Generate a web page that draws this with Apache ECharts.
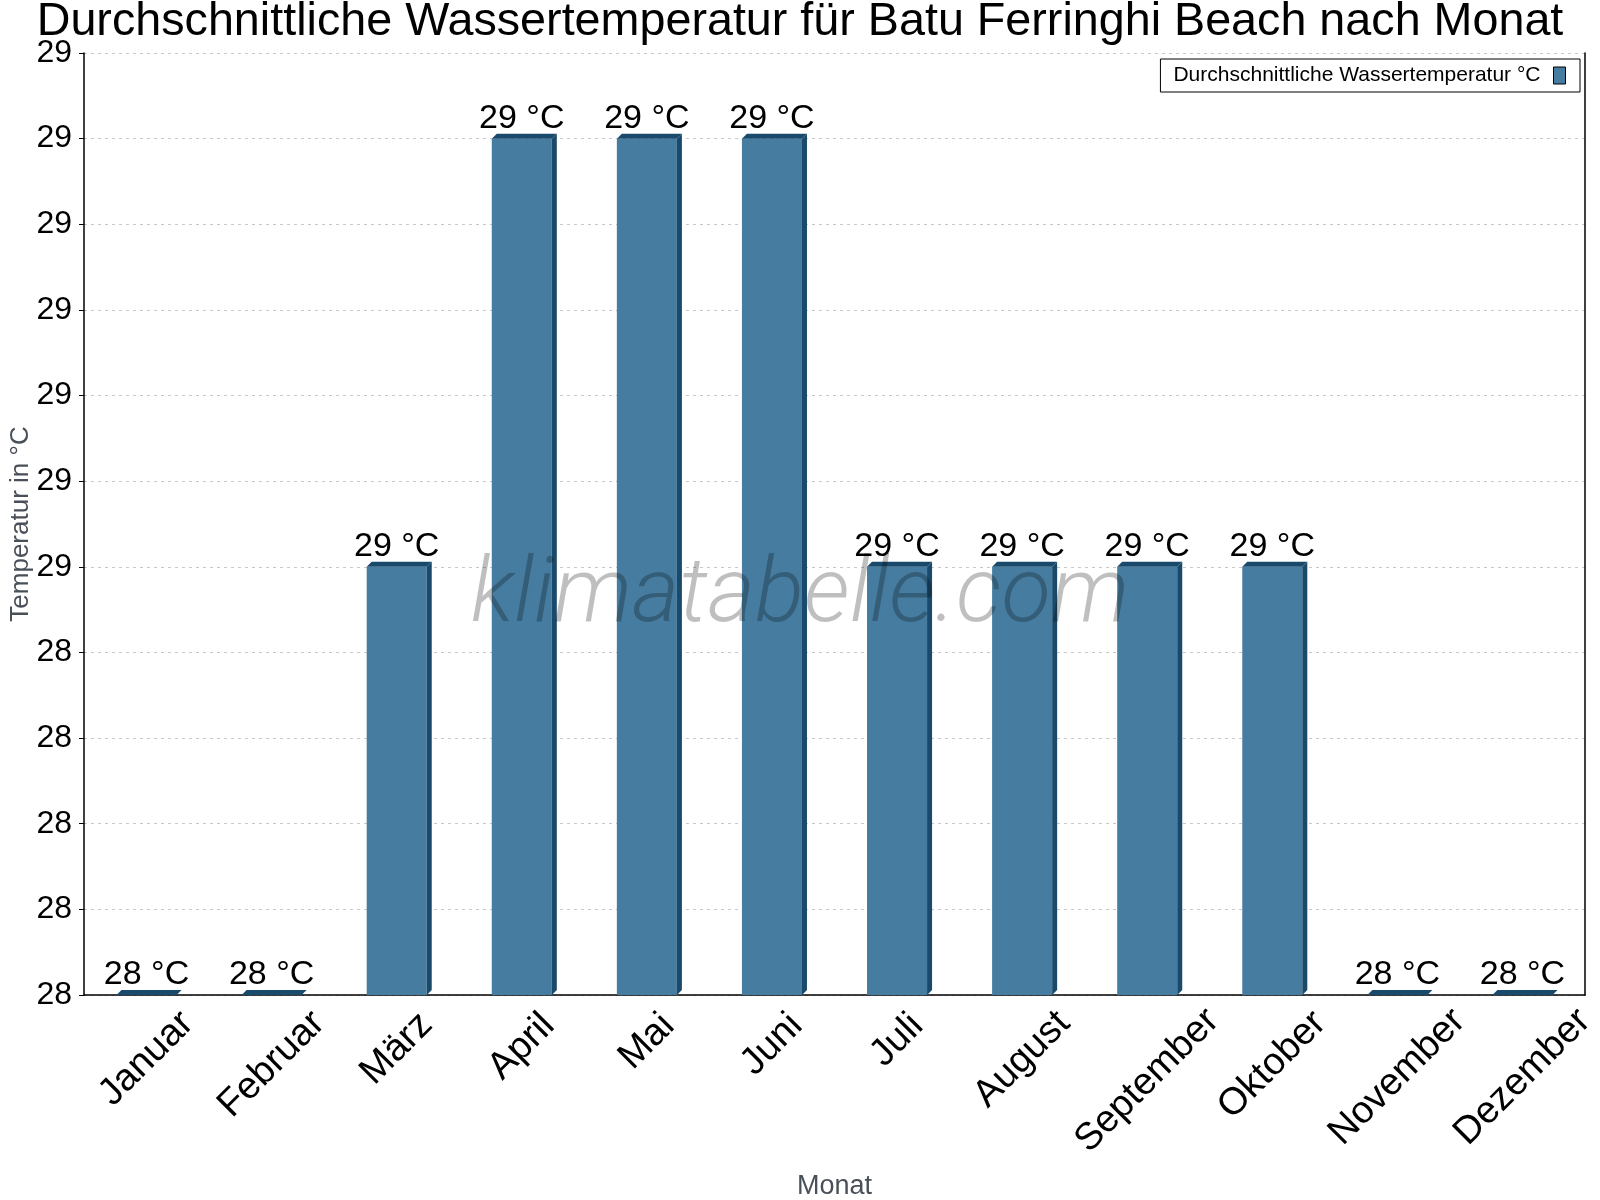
<!DOCTYPE html>
<html>
<head>
<meta charset="utf-8">
<script src="https://cdn.jsdelivr.net/npm/echarts@6/dist/echarts.min.js"></script>
<style>
  html, body { margin: 0; padding: 0; background: #fff; }
  #chart { width: 1600px; height: 1200px; }
</style>
</head>
<body>
<div id="chart"></div>
<script>
var months = ["Januar", "Februar", "März", "April", "Mai", "Juni", "Juli", "August", "September", "Oktober", "November", "Dezember"];
var waterTemp = [28.0, 28.0, 28.5, 29.0, 29.0, 29.0, 28.5, 28.5, 28.5, 28.5, 28.0, 28.0];
var yMin = 28.0;
var yMax = 29.1;
var yStep = 0.1;

var font = "Liberation Sans, Arial, sans-serif";
var frontColor = "#467ca0";
var darkColor = "#1a4a6b";
var monthFontSize = 38;

function roundLabel(v) {
  return Math.round(v + 1e-9);
}

// rotated month labels are centred under the category; longer ones sit a bit lower
var measureCtx = document.createElement("canvas").getContext("2d");
measureCtx.font = monthFontSize + "px " + font;
var monthRich = {};
months.forEach(function (m, i) {
  var len = measureCtx.measureText(m).width;
  var drop = 18 + 0.31 * len;
  var p = Math.round(drop * 1.4142);
  monthRich["m" + i] = {
    fontFamily: font,
    fontSize: monthFontSize,
    color: "#000",
    padding: [p, p, 0, 0]
  };
});

// 3d-ish bar: front face, dark top and right side
function renderBar(params, api) {
  var top = api.coord([api.value(0), api.value(1)]);
  var base = api.coord([api.value(0), yMin]);
  var w = api.size([1, 0])[0] * 0.48;
  var d = 5;
  var x0 = top[0] - w / 2;
  var x1 = top[0] + w / 2;
  return {
    type: "group",
    children: [
      {
        type: "rect",
        shape: { x: x0, y: top[1], width: w, height: base[1] - top[1] },
        style: { fill: frontColor }
      },
      {
        type: "polygon",
        shape: { points: [[x0, top[1]], [x0 + d, top[1] - d], [x1 + d, top[1] - d], [x1, top[1]]] },
        style: { fill: darkColor }
      },
      {
        type: "polygon",
        shape: { points: [[x1, top[1]], [x1 + d, top[1] - d], [x1 + d, base[1] - d], [x1, base[1]]] },
        style: { fill: darkColor }
      },
      {
        type: "text",
        style: {
          text: roundLabel(api.value(1)) + " °C",
          x: top[0],
          y: top[1] - d + 2,
          align: "center",
          verticalAlign: "bottom",
          font: "34px " + font,
          fill: "#000"
        }
      }
    ]
  };
}

var chart = echarts.init(document.getElementById("chart"));
chart.setOption({
  backgroundColor: "#fff",
  animation: false,
  title: {
    text: "Durchschnittliche Wassertemperatur für Batu Ferringhi Beach nach Monat",
    left: "center",
    top: -6,
    textStyle: { fontFamily: font, fontSize: 46.7, fontWeight: "normal", color: "#000" }
  },
  legend: {
    data: ["Durchschnittliche Wassertemperatur °C"],
    right: 20,
    top: 59,
    align: "right",
    icon: "rect",
    itemWidth: 12,
    itemHeight: 17,
    padding: [6, 14, 6, 13],
    borderColor: "#000",
    borderWidth: 1,
    borderRadius: 0,
    textStyle: { fontFamily: font, fontSize: 21, color: "#000", padding: [0, 8, 0, 0] },
    itemStyle: { color: frontColor, borderColor: "#000", borderWidth: 1 }
  },
  grid: { left: 84, right: 15, top: 53, bottom: 205, outerBoundsMode: "none" },
  graphic: [
    {
      type: "text",
      left: "center",
      top: 553,
      z: 100,
      style: {
        text: "klimatabelle.com",
        font: "italic 300 91px Roboto, " + font,
        fill: "rgba(0,0,0,0.25)"
      }
    }
  ],
  xAxis: {
    type: "category",
    data: months,
    name: "Monat",
    nameLocation: "middle",
    nameGap: 178,
    nameMoveOverlap: false,
    nameTextStyle: { fontFamily: font, fontSize: 27, color: "#4a5059" },
    axisLine: { lineStyle: { color: "#000", width: 1.5 } },
    axisTick: { length: 6, lineStyle: { color: "#000" } },
    axisLabel: {
      interval: 0,
      rotate: 45,
      align: "center",
      verticalAlign: "middle",
      margin: 10,
      formatter: function (v, i) { return "{m" + i + "|" + v + "}"; },
      rich: monthRich
    }
  },
  yAxis: [
    {
      type: "value",
      min: yMin,
      max: yMax,
      interval: yStep,
      name: "Temperatur in °C",
      nameLocation: "middle",
      nameGap: 50,
      nameMoveOverlap: false,
      nameTextStyle: { fontFamily: font, fontSize: 26, color: "#4a5059" },
      axisLine: { show: true, lineStyle: { color: "#000", width: 1.5 } },
      axisTick: { show: true, length: 5, lineStyle: { color: "#000" } },
      axisLabel: {
        fontFamily: font,
        fontSize: 32,
        color: "#000",
        margin: 12,
        formatter: function (v) { return roundLabel(v); }
      },
      splitLine: { lineStyle: { color: "#c8c8c8", type: [3, 4] } }
    },
    {
      type: "value",
      min: yMin,
      max: yMax,
      interval: yStep,
      position: "right",
      axisLine: { show: true, lineStyle: { color: "#000", width: 1.5 } },
      axisTick: { show: false },
      axisLabel: { show: false },
      splitLine: { show: false }
    }
  ],
  series: [
    {
      name: "Durchschnittliche Wassertemperatur °C",
      type: "custom",
      renderItem: renderBar,
      itemStyle: { color: frontColor },
      encode: { x: 0, y: 1 },
      data: waterTemp.map(function (v, i) { return [i, v]; })
    }
  ]
});
</script>
</body>
</html>
